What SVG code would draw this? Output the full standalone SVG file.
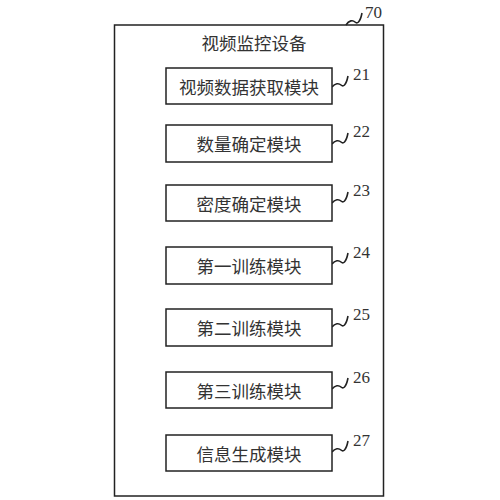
<svg xmlns="http://www.w3.org/2000/svg" width="500" height="500" viewBox="0 0 500 500">
<style>
.box{fill:#fff;stroke:#222;stroke-width:1.5}
.t{font-family:"Noto Sans CJK SC","Noto Serif CJK SC",sans-serif;font-size:17.5px;fill:#333;text-anchor:middle;dominant-baseline:central}
.n{font-family:"Liberation Serif",serif;font-size:17px;fill:#333}
.sq{fill:none;stroke:#222;stroke-width:1.6}
</style>
<rect width="500" height="500" fill="#fff"/>
<g id="device">
<rect class="box" x="114.5" y="25" width="269" height="471"/>
<text class="t" x="254" y="42">视频监控设备</text>
<text class="n" x="365" y="18">70</text>
</g>
<g id="connectors">
<path class="sq" d="M346,25 c3,-5 7,-5 9,-3 c2,2 5,1 7,-9"/>
<path class="sq" d="M332,87 c3,-4 7,-4 9,-2 c2,2 5,1 7,-9"/>
<path class="sq" d="M332,144 c3,-4 7,-4 9,-2 c2,2 5,1 7,-9"/>
<path class="sq" d="M332,203 c3,-4 7,-4 9,-2 c2,2 5,1 7,-9"/>
<path class="sq" d="M332,264 c3,-4 7,-4 9,-2 c2,2 5,1 7,-9"/>
<path class="sq" d="M332,327 c3,-4 7,-4 9,-2 c2,2 5,1 7,-9"/>
<path class="sq" d="M332,389 c3,-4 7,-4 9,-2 c2,2 5,1 7,-9"/>
<path class="sq" d="M332,452 c3,-4 7,-4 9,-2 c2,2 5,1 7,-9"/>
</g>
<g id="m21"><rect class="box" x="166" y="68" width="166" height="36"/><text class="t" x="249" y="86">视频数据获取模块</text><text class="n" x="353" y="80">21</text></g>
<g id="m22"><rect class="box" x="166" y="125" width="166" height="37"/><text class="t" x="249" y="143.5">数量确定模块</text><text class="n" x="353" y="137">22</text></g>
<g id="m23"><rect class="box" x="166" y="185" width="166" height="36"/><text class="t" x="249" y="203">密度确定模块</text><text class="n" x="353" y="196">23</text></g>
<g id="m24"><rect class="box" x="166" y="247" width="166" height="37"/><text class="t" x="249" y="265.5">第一训练模块</text><text class="n" x="353" y="258">24</text></g>
<g id="m25"><rect class="box" x="166" y="309" width="166" height="37"/><text class="t" x="249" y="327.5">第二训练模块</text><text class="n" x="353" y="320">25</text></g>
<g id="m26"><rect class="box" x="166" y="372" width="166" height="36"/><text class="t" x="249" y="390">第三训练模块</text><text class="n" x="353" y="383">26</text></g>
<g id="m27"><rect class="box" x="166" y="435" width="166" height="36"/><text class="t" x="249" y="453">信息生成模块</text><text class="n" x="353" y="446">27</text></g>
</svg>
